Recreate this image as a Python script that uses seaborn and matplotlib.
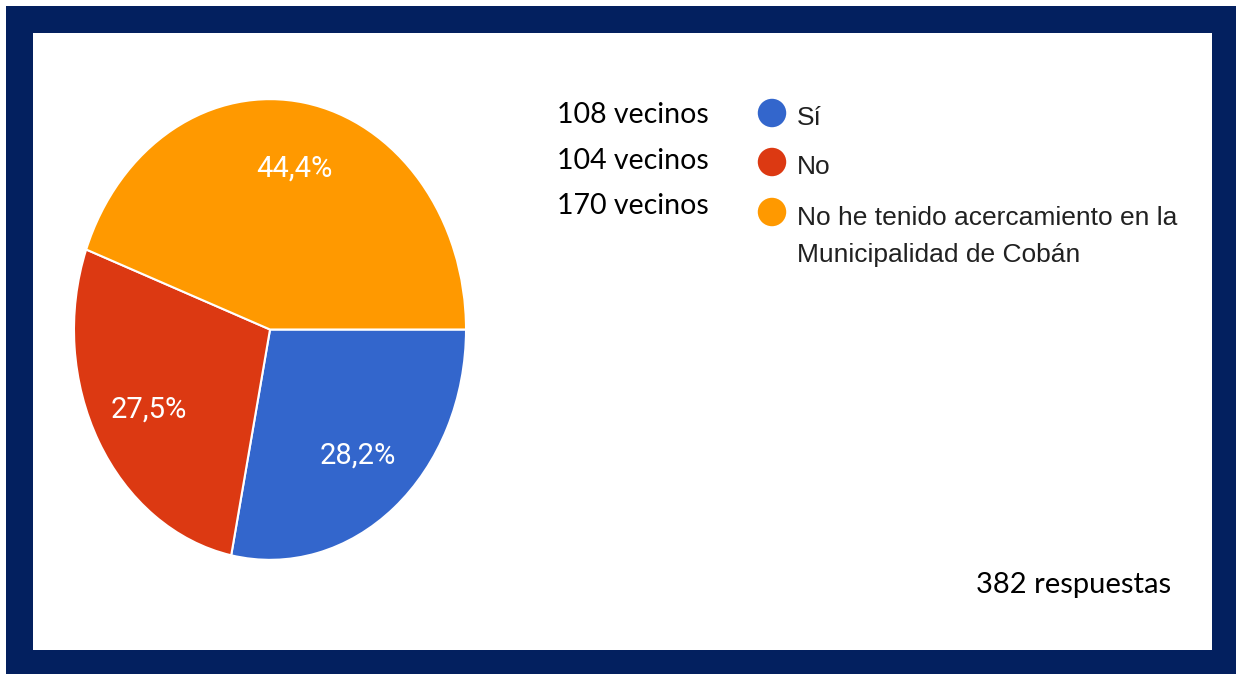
import matplotlib
matplotlib.use('Agg')
import matplotlib.pyplot as plt
import seaborn as sns
from matplotlib.patches import Rectangle

# Datos de la encuesta (porcentajes tal como aparecen en el grafico)
categorias = ['Sí', 'No', 'No he tenido acercamiento en la\nMunicipalidad de Cobán']
porcentajes = [28.2, 27.5, 44.4]
vecinos = [108, 104, 170]
total_respuestas = 382
colores = ['#3366cc', '#dc3912', '#ff9900']

sns.set_theme(style='white')
plt.rcParams['font.family'] = ['Liberation Sans', 'DejaVu Sans']

W, H = 1236, 674
fig = plt.figure(figsize=(W / 100, H / 100), dpi=100)
fig.patch.set_facecolor('white')

# marco azul oscuro con fondo blanco
fig.patches.append(Rectangle((6 / W, 0), (W - 6) / W, (H - 6) / H, transform=fig.transFigure,
                             facecolor='#03205f', edgecolor='none', zorder=-3))
fig.patches.append(Rectangle((33 / W, 24 / H), 1179 / W, 617 / H, transform=fig.transFigure,
                             facecolor='white', edgecolor='none', zorder=-2))

# pastel (ligeramente eliptico como en la captura)
ax = fig.add_axes([73 / W, (H - 561) / H, 394 / W, 463 / H])
ax.pie(porcentajes, colors=colores, startangle=0, counterclock=False,
       autopct=lambda p: f'{p:.1f}%'.replace('.', ','), pctdistance=0.71,
       wedgeprops=dict(edgecolor='white', linewidth=1.5),
       textprops=dict(color='white', fontsize=21, family=['Roboto', 'DejaVu Sans']))
ax.set_aspect('auto')
ax.set_xlim(-1.005, 1.005)
ax.set_ylim(-1.005, 1.005)
ax.set_frame_on(False)

# capa para leyenda y textos, en pixeles
lax = fig.add_axes([0, 0, 1, 1])
lax.set_xlim(0, W)
lax.set_ylim(H, 0)
lax.axis('off')

leyenda_y = [113, 162, 212]
paso_linea = 38
for cat, col, y in zip(categorias, colores, leyenda_y):
    lax.scatter(772, y, s=420, color=col, edgecolor='none')
    # la linea base de un texto de varias lineas es la de la ultima linea
    extra = cat.count('\n') * paso_linea
    lax.text(797, y + 12 + extra, cat, fontsize=19, color='#212121', va='baseline', ha='left',
             linespacing=1.7)

for n, y in zip(vecinos, [123, 169, 214]):
    lax.text(557, y, f'{n} vecinos', fontsize=20.5, color='black', va='baseline', ha='left',
             family=['Lato', 'DejaVu Sans'])

lax.text(976, 593, f'{total_respuestas} respuestas', fontsize=21, color='black',
         va='baseline', ha='left', family=['Lato', 'DejaVu Sans'])

plt.savefig('out.png', dpi=100)
plt.close()
